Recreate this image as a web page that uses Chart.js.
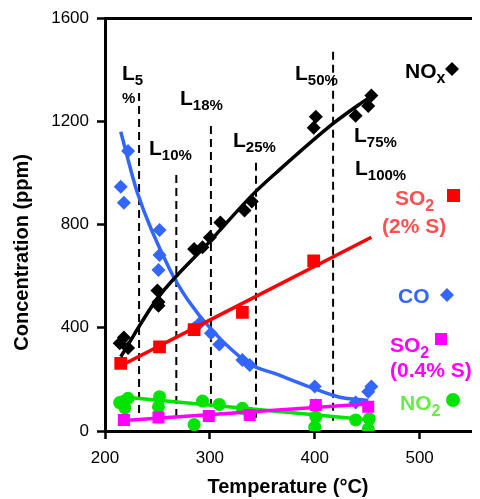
<!DOCTYPE html>
<html>
<head>
<meta charset="utf-8">
<script src="https://cdn.jsdelivr.net/npm/chart.js@4/dist/chart.umd.min.js"></script>
<style>
  html, body { margin: 0; padding: 0; background: #fff; }
</style>
</head>
<body>
<canvas id="chart" width="480" height="499"></canvas>
<script>
// measured concentrations (ppm) against exhaust temperature (°C)
const noxT = [214, 218, 222, 250, 251, 251, 285, 293, 300, 310, 333, 340, 399, 401, 439, 451, 454];
const noxPpm = [340, 362, 322, 545, 500, 485, 705, 712, 750, 808, 855, 890, 1175, 1218, 1222, 1260, 1300];

const coT = [215, 218, 222, 252, 252, 251, 285, 290, 301, 309, 331, 338, 400, 401, 439, 451, 454];
const coPpm = [947, 885, 1085, 779, 682, 624, 398, 417, 379, 335, 275, 256, 172, 100, 110, 152, 172];

const so2HighT = [215, 252, 285, 331, 399];
const so2HighPpm = [262, 326, 393, 460, 659];

const so2LowT = [218, 251, 299, 338, 401, 451];
const so2LowPpm = [43, 52, 58, 62, 101, 94];

const no2T = [214, 219, 222, 251, 252, 285, 293, 309, 331, 338, 400, 401, 439, 451, 452];
const no2Ppm = [110, 90, 127, 94, 133, 25, 116, 103, 88, 68, 15, 55, 43, 8, 47];

// trend lines
const noxFitT = [215, 250, 300, 342, 363, 418, 453];
const noxFitPpm = [288, 514, 735, 921, 1000, 1193, 1296];
const coFitT = [215, 231, 262, 279, 302, 338, 363, 395, 423, 451];
const coFitPpm = [1160, 922, 624, 508, 391, 260, 221, 171, 132, 118];
const so2HighFitT = [215, 454];
const so2HighFitPpm = [253, 751];
const so2LowFitT = [215, 456];
const so2LowFitPpm = [40, 107];
const no2FitT = [215, 453];
const no2FitPpm = [133, 43];

// engine load markers
const loadNames = ['5%', '10%', '18%', '25%', '50%', '75%', '100%'];
const loadT = [232.5, 268, 301, 344, 417.5];
const loadTop = [1310, 992, 1182, 1040, 1470];
const loadBase = 40;

const xTickVals = [200, 300, 400, 500];
const yTickVals = [0, 400, 800, 1200, 1600];

const FONT = "'Liberation Sans', Arial, sans-serif";
const BLUE = '#3366ff';
const GREEN = '#00e400';

function pts(xs, ys) {
    return xs.map((x, i) => ({ x: x, y: ys[i] }));
}

function markers(xs, ys, color, style, radius, order) {
    return {
        data: pts(xs, ys),
        showLine: false,
        pointStyle: style,
        pointRadius: radius,
        backgroundColor: color,
        borderColor: color,
        borderWidth: 0,
        order: order,
    };
}

function fit(xs, ys, color, order) {
    return {
        data: pts(xs, ys),
        showLine: true,
        pointRadius: 0,
        borderColor: color,
        borderWidth: 3.5,
        cubicInterpolationMode: 'monotone',
        order: order,
    };
}

const loadLines = loadT.map((t, i) => ({
    data: [{ x: t, y: loadTop[i] }, { x: t, y: loadBase }],
    showLine: true,
    pointRadius: 0,
    borderColor: '#000',
    borderWidth: 2,
    borderDash: [8, 5],
    order: 20,
}));

// text with a subscript part
function subText(ctx, main, sub, x, y, color, size, subSize, drop) {
    ctx.fillStyle = color;
    ctx.font = `bold ${size}px ${FONT}`;
    ctx.fillText(main, x, y);
    const w = ctx.measureText(main).width;
    ctx.font = `bold ${subSize}px ${FONT}`;
    ctx.fillText(sub, x + w, y + drop);
}

function diamond(ctx, x, y, r) {
    ctx.beginPath();
    ctx.moveTo(x, y - r);
    ctx.lineTo(x + r, y);
    ctx.lineTo(x, y + r);
    ctx.lineTo(x - r, y);
    ctx.closePath();
    ctx.fill();
}

const annotations = {
    id: 'annotations',
    afterDraw(chart) {
        const ctx = chart.ctx;
        ctx.save();
        ctx.textAlign = 'left';
        ctx.textBaseline = 'alphabetic';

        // load labels (L5 wraps its percent sign)
        const spots = [[122, 80], [149, 155], [180, 105], [233, 147], [295, 80], [354, 142], [355, 175]];
        loadNames.forEach((name, i) => {
            const [x, y] = spots[i];
            const sub = i === 0 ? name.replace('%', '') : name;
            subText(ctx, 'L', sub, x, y, '#000', 21, 15, 5);
        });
        ctx.font = `bold 15px ${FONT}`;
        ctx.fillText('%', 122, 103);

        // series key
        subText(ctx, 'NO', 'x', 405, 78, '#000', 21, 16, 5);
        ctx.fillStyle = '#000';
        diamond(ctx, 452, 69, 7);

        subText(ctx, 'SO', '2', 395, 205, '#ff5050', 21, 16, 6);
        ctx.font = `bold 21px ${FONT}`;
        ctx.fillText('(2% S)', 382, 233);
        ctx.fillStyle = '#ff0000';
        ctx.fillRect(447, 189, 13, 13);

        ctx.fillStyle = BLUE;
        ctx.font = `bold 21px ${FONT}`;
        ctx.fillText('CO', 398, 303);
        diamond(ctx, 447, 295, 7);

        subText(ctx, 'SO', '2', 390, 352, '#ff00ff', 21, 16, 6);
        ctx.font = `bold 21px ${FONT}`;
        ctx.fillText('(0.4% S)', 390, 377);
        ctx.fillRect(435, 333, 12, 12);

        subText(ctx, 'NO', '2', 400, 410, '#66ee44', 21, 16, 6);
        ctx.fillStyle = GREEN;
        ctx.beginPath();
        ctx.arc(453, 400, 7, 0, Math.PI * 2);
        ctx.fill();

        ctx.restore();
    },
};

const tickFont = { family: FONT, size: 17 };

new Chart(document.getElementById('chart'), {
    type: 'scatter',
    data: {
        datasets: [
            ...loadLines,
            markers(no2T, no2Ppm, GREEN, 'circle', 6.5, 9),
            fit(no2FitT, no2FitPpm, GREEN, 8),
            markers(coT, coPpm, BLUE, 'rectRot', 7, 7),
            fit(coFitT, coFitPpm, BLUE, 6),
            markers(so2LowT, so2LowPpm, '#ff00ff', 'rect', 8.5, 5),
            fit(so2LowFitT, so2LowFitPpm, '#ff00ff', 4),
            markers(so2HighT, so2HighPpm, '#ff0000', 'rect', 9, 3),
            fit(so2HighFitT, so2HighFitPpm, '#ff0000', 2),
            markers(noxT, noxPpm, '#000', 'rectRot', 7, 1),
            fit(noxFitT, noxFitPpm, '#000', 0),
        ],
    },
    options: {
        responsive: false,
        animation: false,
        layout: { padding: { top: 18, right: 0, left: 0, bottom: 0 } },
        plugins: {
            legend: { display: false },
            tooltip: { enabled: false },
        },
        scales: {
            x: {
                type: 'linear',
                min: 200,
                max: 549,
                afterBuildTicks: (scale) => { scale.ticks = xTickVals.map(v => ({ value: v })); },
                afterFit: (scale) => { scale.height = 68; },
                ticks: { font: tickFont, color: '#000', padding: 9, callback: v => String(v) },
                grid: { display: true, drawOnChartArea: false, tickLength: 8, tickWidth: 2.5, tickColor: '#000' },
                border: { display: true, color: '#000', width: 3 },
                title: {
                    display: true,
                    text: 'Temperature (°C)',
                    color: '#000',
                    font: { family: FONT, size: 20, weight: 'bold' },
                    padding: { top: 0, bottom: 0 },
                },
            },
            x2: {
                type: 'linear',
                position: 'top',
                min: 200,
                max: 549,
                afterFit: (scale) => { scale.height = 0; },
                ticks: { display: false },
                grid: { display: false },
                border: { display: true, color: '#000', width: 3 },
            },
            y: {
                min: 0,
                max: 1600,
                afterBuildTicks: (scale) => { scale.ticks = yTickVals.map(v => ({ value: v })); },
                afterFit: (scale) => { scale.width = 105; },
                ticks: { font: tickFont, color: '#000', padding: 8, callback: v => String(v) },
                grid: { display: true, drawOnChartArea: false, tickLength: 8, tickWidth: 2.5, tickColor: '#000' },
                border: { display: true, color: '#000', width: 3 },
                title: {
                    display: true,
                    // trailing gap nudges the title toward the bottom of the axis
                    text: 'Concentration (ppm)' + '\u00a0'.repeat(10),
                    color: '#000',
                    font: { family: FONT, size: 20, weight: 'bold' },
                    padding: { top: 10, bottom: 0 },
                },
            },
        },
    },
    plugins: [annotations],
});
</script>
</body>
</html>
